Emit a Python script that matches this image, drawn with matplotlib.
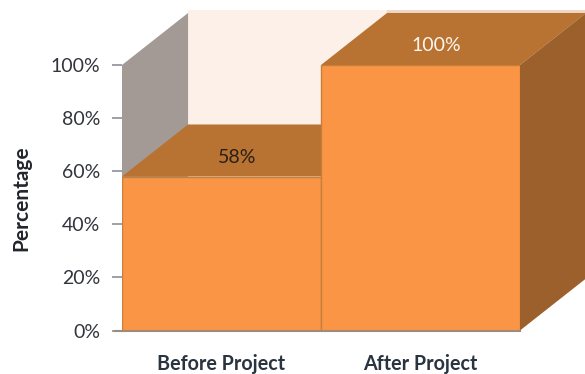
import matplotlib
matplotlib.use('Agg')
import matplotlib.pyplot as plt
from matplotlib.patches import Polygon

categories = ['Before Project', 'After Project']
values = [58, 100]
value_labels = ['58%', '100%']
value_colors = ['#2b2018', '#fff6ee']
ticks = [0, 20, 40, 60, 80, 100]
tick_labels = ['0%', '20%', '40%', '60%', '80%', '100%']

# fake 3d depth, in data units
dx = 0.332
dy = 19.6
# the back wall sticks out a little above the boxes
wall_extra = 1.2

FRONT = '#fa9545'
TOP = '#b87232'
SIDE = '#9c602c'
WALL = '#fcf0e9'
WALL_STRIP = '#efd9c6'
LEFT = '#a39a96'
EDGE = '#c97f3c'

plt.rcParams['font.family'] = ['Lato', 'DejaVu Sans']

W, H = 585, 374
fig = plt.figure(figsize=(W / 100, H / 100), dpi=100)
ax = fig.add_axes([122 / W, 1 - 330.5 / H, 398 / W, 265.5 / H])
ax.set_xlim(0, 2)
ax.set_ylim(0, 100)


def poly(pts, color, z, edge='none'):
    ax.add_patch(Polygon(pts, closed=True, fc=color, ec=edge, lw=1, zorder=z, clip_on=False))


# back wall and left wall
wall_top = 100 + dy + wall_extra
poly([(dx, dy), (2 + dx, dy), (2 + dx, wall_top), (dx, wall_top)], WALL, 1)
poly([(1 + dx, 100 + dy), (2 + dx, 100 + dy), (2 + dx, wall_top), (1 + dx, wall_top)], WALL_STRIP, 1.5)
poly([(0, 0), (dx, dy), (dx, 100 + dy), (0, 100)], LEFT, 2)

# boxes, left one first so the taller one covers it
for i, v in enumerate(values):
    poly([(i, v), (i + dx, v + dy), (i + 1 + dx, v + dy), (i + 1, v)], TOP, 3 + i)
    poly([(i + 1, 0), (i + 1 + dx, dy), (i + 1 + dx, v + dy), (i + 1, v)], SIDE, 3 + i)
    ax.bar(i + 0.5, v, width=1, color=FRONT, edgecolor=EDGE, linewidth=1, zorder=3.5 + i)
    ax.text(i + 0.5 + 0.08, v + 7.3, value_labels[i], ha='center', va='center',
            fontsize=14, color=value_colors[i], zorder=10, clip_on=False)

ax.set_xticks([0.5, 1.5])
ax.set_xticklabels(categories, fontsize=14.2, fontweight='bold', color='#2a3340')
ax.tick_params(axis='x', length=0, pad=17)
ax.set_yticks(ticks)
ax.set_yticklabels(tick_labels, fontsize=14, color='#33353d')
ax.tick_params(axis='y', length=7, width=1.2, color='#8c8f9c', pad=8.5)

for s in ['top', 'right', 'left']:
    ax.spines[s].set_visible(False)
ax.spines['bottom'].set_color('#a08a78')
ax.spines['bottom'].set_linewidth(1.5)
ax.spines['bottom'].set_zorder(9)
ax.plot([-0.035, 0], [0, 0], color='#a08a78', lw=1.5, clip_on=False)

fig.text(21 / W, 1 - 198 / H, 'Percentage', rotation=90, ha='center', va='center',
         fontsize=15, fontweight='bold', color='#22262c')

fig.savefig('out.png', dpi=100)
